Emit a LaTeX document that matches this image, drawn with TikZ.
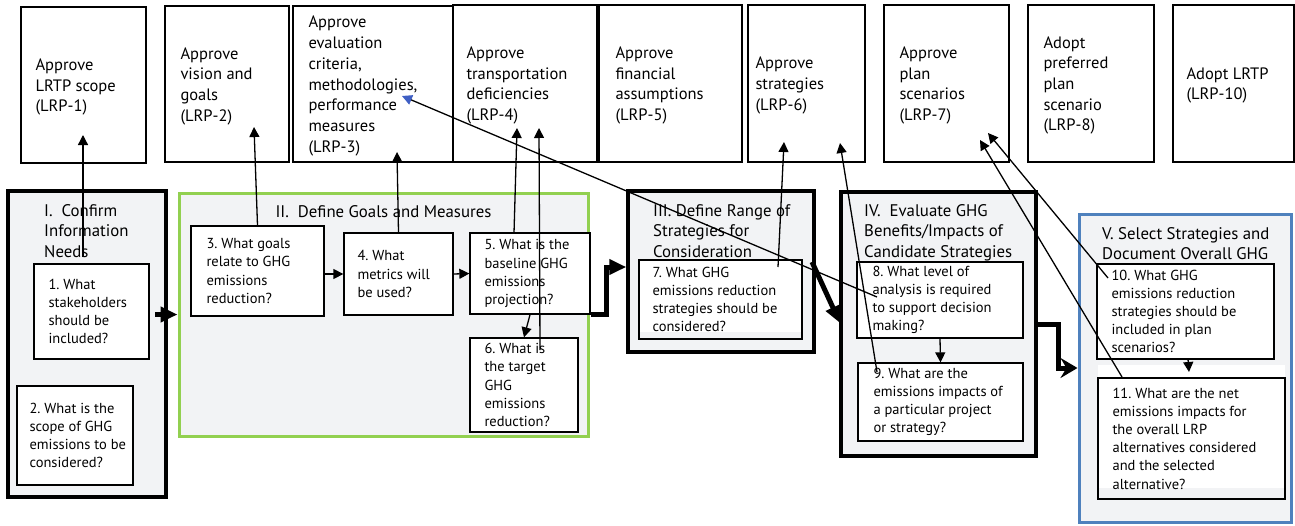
\documentclass[tikz,border=0pt]{standalone}
\usepackage{fontspec}
\setmainfont{PT Sans}
\usetikzlibrary{arrows.meta}
\frenchspacing
\definecolor{phasefill}{HTML}{F2F3F5}
\definecolor{phasegreen}{HTML}{92D050}
\definecolor{phaseblue}{HTML}{4F81BD}
\definecolor{tipblue}{HTML}{3F5FC4}
% #1 name, #2 #3 centre, #4 width, #5 height, #6 left inset, #7 text
\newcommand\milestone[7]{%
  \node[topframe, minimum width=#4pt, minimum height=#5pt] (#1) at (#2,#3) {};
  \node[toptext, anchor=west] (#1-t) at ([xshift=#6pt, yshift=-2pt]#1.west) {#7};}
\newcommand\question[8][white]{%
  \node[qframe, fill=#1, minimum width=#5pt, minimum height=#6pt] (#2) at (#3,#4) {};
  \node[qtext, anchor=west] (#2-t) at ([xshift=#7pt]#2.west) {#8};}
\begin{document}
\begin{tikzpicture}[x=1pt,y=-1pt,
  topframe/.style={draw, line width=1.4pt, fill=white, inner sep=0pt},
  toptext/.style={align=left, inner sep=0pt, font=\fontsize{16.5}{20.7}\selectfont},
  qframe/.style={draw, line width=1.3pt, inner sep=0pt},
  qtext/.style={align=left, inner sep=0pt, font=\fontsize{14.5}{18.2}\selectfont},
  phase/.style={draw=black, line width=3.2pt, fill=phasefill, inner sep=0pt},
  phasetitle/.style={anchor=north west, align=left, inner sep=0pt,
    font=\fontsize{16.8}{20.5}\selectfont},
  arr/.style={line width=1.3pt, -{Triangle[length=10pt,width=10pt]}},
  bluearr/.style={line width=1.3pt, -{Triangle[length=10pt,width=10pt,color=tipblue]}},
  bigarr/.style={line width=5pt, -{Triangle[length=17pt,width=15pt]}},
  bigstealth/.style={line width=5pt, -{Stealth[length=17pt,width=20pt,inset=6pt]}}
]
\useasboundingbox (0,0) rectangle (1295,525);

% ---- approval milestones along the top ----
\milestone{L1}{83.5}{85}{125}{156}{15}{Approve\\LRTP scope\\(LRP-1)}
\milestone{L2}{227}{84}{124}{156}{16}{Approve\\vision and\\goals\\(LRP-2)}
\milestone{L3}{373}{84}{160}{156}{16}{Approve\\evaluation\\criteria,\\methodologies,\\performance\\measures\\(LRP-3)}
\milestone{L4}{525}{83.5}{144}{157}{14}{Approve\\transportation\\deficiencies\\(LRP-4)}
\milestone{L5}{670.5}{83.5}{143}{157}{17}{Approve\\financial\\assumptions\\(LRP-5)}
\milestone{L6}{806.5}{83.5}{117}{157}{8}{Approve\\strategies\\(LRP-6)}
\milestone{L7}{946.5}{83.5}{125}{157}{16}{Approve\\plan\\scenarios\\(LRP-7)}
\milestone{L8}{1091}{83.5}{126}{157}{16}{Adopt\\preferred\\plan\\scenario\\(LRP-8)}
\milestone{L10}{1233.5}{83.5}{121}{157}{14}{Adopt LRTP\\(LRP-10)}

% ---- the five phases ----
\node[phase, minimum width=158pt, minimum height=306pt] (P1) at (87,344) {};
\node[phase, draw=phasegreen, line width=3pt, minimum width=409pt, minimum height=243pt] (P2) at (383.5,314.5) {};
\node[phase, line width=3.5pt, minimum width=186pt, minimum height=161pt] (P3) at (721,271.5) {};
\node[phase, line width=3.5pt, minimum width=195pt, minimum height=264pt] (P4) at (938.5,324) {};
\node[phase, draw=phaseblue, line width=3pt, minimum width=212pt, minimum height=308pt] (P5) at (1185,368) {};

% white text frames behind questions 7 and 11
\fill[white] (639,260) rectangle (802,332);
\fill[white] (1098,365) rectangle (1285,488);

% ---- questions ----
\question{B1}{91.5}{311.5}{115}{95}{15}{1. What\\stakeholders\\should be\\included?}
\question{B2}{75}{435.5}{116}{99}{13}{2. What is the\\scope of GHG\\emissions to be\\considered?}
\question{B3}{257.5}{271}{133}{90}{16}{3. What goals\\relate to GHG\\emissions\\reduction?}
\question{B4}{398.5}{274}{109}{82}{14}{4. What\\metrics will\\be used?}
\question{B5}{530}{273.5}{120}{81}{15}{5. What is the\\baseline GHG\\emissions\\projection?}
\question{B6}{524}{385}{108}{94}{15}{6. What is\\the target\\GHG\\emissions\\reduction?}
\question[none]{B7}{720.5}{299.5}{163}{79}{14}{7. What GHG\\emissions reduction\\strategies should be\\considered?}
\question{B8}{940}{300}{166}{76}{16}{8. What level of\\analysis is required\\to support decision\\making?}
\question{B9}{940.5}{402}{165}{78}{16}{9. What are the\\emissions impacts of\\a particular project\\or strategy?}
\question{B10}{1185.5}{311.5}{177}{95}{15}{10. What GHG\\emissions reduction\\strategies should be\\included in plan\\scenarios?}
\question[none]{B11}{1191.5}{438.5}{187}{121}{15}{11. What are the net\\emissions impacts for\\the overall LRP\\alternatives considered\\and the selected\\alternative?}

% ---- phase titles ----
\node[phasetitle] (T1) at (44,204) {I.\ \ Confirm\\Information\\Needs};
\node[phasetitle, anchor=north] (T2) at (383.5,205) {II.\ \ Define Goals and Measures};
\node[phasetitle] (T3) at (653,204) {III. Define Range of\\Strategies for\\Consideration};
\node[phasetitle] (T4) at (864,204) {IV.\ \ Evaluate GHG\\Benefits/Impacts of\\Candidate Strategies};
\node[phasetitle] (T5) at (1102,227) {V. Select Strategies and\\Document Overall GHG};

% ---- flow between phases ----
\coordinate (k1) at (155,314.5);
\draw[bigarr] (k1) -- (P2.west);
\coordinate (k2) at (606,267);
\draw[bigarr] (B5.south east) -| (k2) -- (k2 -| P3.west);
\coordinate (k3a) at (812,262);
\coordinate (k3b) at (840,323);
\draw[bigarr] (k3a) -- (k3b);
\coordinate (k4) at (1058,368);
\draw[bigstealth] (P4.east) -| (k4) -- (k4 -| P5.west);

% ---- links from questions to milestones ----
\coordinate (s1) at (83,257);   \coordinate (e1) at (83,135);
\coordinate (e2) at (254,127);
\coordinate (e3) at (397,152);
\coordinate (s4) at (514,233);  \coordinate (e4) at (517,128);
\coordinate (s5) at (540,350);  \coordinate (e5) at (539,128);
\coordinate (s7) at (778,267);  \coordinate (e7) at (784,142);
\coordinate (s8) at (877,372);  \coordinate (e8) at (840,143);
\coordinate (s9) at (877,297);  \coordinate (e9) at (402,96);
\coordinate (s10) at (1122,377); \coordinate (e10) at (980,140);
\coordinate (s11) at (1108,278); \coordinate (e11) at (988,133);
\coordinate (s12) at (1188,359); \coordinate (e12) at (1189,372);

\draw[arr] (s1) -- (e1);
\draw[arr] (B3.north) -- (e2);
\draw[arr] (B4.north) -- (e3);
\draw[arr] (s4) -- (e4);
\draw[arr] (s5) -- (e5);
\draw[arr] (s7) -- (e7);
\draw[arr] (s8) -- (e8);
\draw[bluearr] (s9) -- (e9);
\draw[arr] (s10) -- (e10);
\draw[arr] (s11) -- (e11);

% ---- links between questions ----
\draw[arr] (B3.east |- B4.west) -- (B4.west);
\draw[arr] (B4.east) -- (B5.west);
\draw[arr] (B5.south) -- (B6.north);
\draw[arr] (B8.south) -- (B9.north);
\draw[arr] (s12) -- (e12);
\end{tikzpicture}
\end{document}
